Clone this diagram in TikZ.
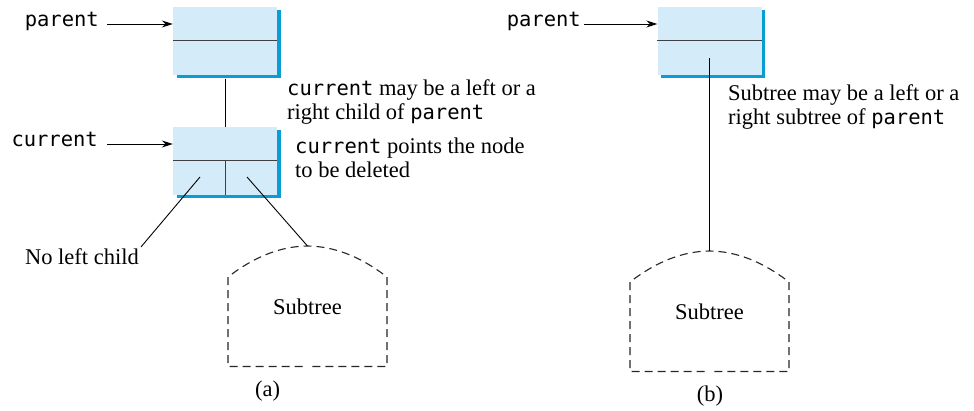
\documentclass[tikz,border=0pt]{standalone}
\usepackage{fontspec}
\setmainfont{Liberation Serif}
\setmonofont{DejaVu Sans Mono}[Scale=0.91]
\usepackage{tikz}
\usetikzlibrary{arrows.meta,positioning}

\definecolor{boxfill}{HTML}{D4ECF9}
\definecolor{boxshade}{HTML}{0A9CD5}

\begin{document}
\begin{tikzpicture}[x=1pt, y=-1pt, >={Stealth[length=11pt, width=7pt]},
    every node/.style={font=\fontsize{22.5}{24}\selectfont, inner sep=0pt},
    cell/.style={fill=boxfill, minimum width=104pt, minimum height=68pt, preaction={fill=boxshade, transform canvas={xshift=3.5pt, yshift=-3.5pt}}},
    divider/.style={draw=black!75, line width=1pt},
    ptrname/.style={font=\fontsize{22.5}{24}\selectfont\ttfamily, anchor=east, text height=1ex, text depth=0pt},
    note/.style={align=left, anchor=base west},
    ptr/.style={->, line width=0.9pt},
    link/.style={line width=0.9pt},
    frame/.style={dash pattern=on 8pt off 5pt, dash phase=4pt, line width=1.1pt, black!85}]
    \useasboundingbox (0,0) rectangle (974,411);

    % (a) parent and current
    \node[cell] (parentA) at (225,41) {};
    \node[cell] (currentA) at (225,161) {};
    % (b) parent
    \node[cell] (parentB) at (709.5,41) {};
    \foreach \c in {parentA,currentA,parentB}
        \draw[divider] (\c.west) -- (\c.east);
    \draw[divider] (currentA.center) -- (currentA.south);

    \node[ptrname] (parentAname) at (99,24) {parent};
    \node[ptrname] (currentAname) at (98,144) {current};
    \node[ptrname] (parentBname) at (581,24) {parent};
    \draw[ptr] ([xshift=8pt]parentAname.east) -- (parentAname.east -| parentA.west);
    \draw[ptr] ([xshift=9pt]currentAname.east) -- (currentAname.east -| currentA.west);
    \draw[ptr] ([xshift=3pt]parentBname.east) -- (parentBname.east -| parentB.west);

    % base anchor sits on the last line
    \node[note] (noteA1) at (287,120) {\texttt{current} may be a left or a\\right child of \texttt{parent}};
    \node[note] (noteA2) at (295,178) {\texttt{current} points the node\\to be deleted};
    \node[note] (noteB) at (728,125) {Subtree may be a left or a\\right subtree of \texttt{parent}};

    % subtrees, each outline drawn as two halves from the top
    \node (subtreeA) at (307.5,307) {Subtree};
    \node (subtreeB) at (709.5,312) {Subtree};
    \foreach \s in {subtreeA,subtreeB}{
        \draw[frame] ([shift={(0,-61)}]\s.center) .. controls ([shift={(26.5,-60.75)}]\s.center) and ([shift={(53,-50.5)}]\s.center) .. ([shift={(79.5,-30)}]\s.center)
            -- ([shift={(79.5,59.5)}]\s.center) -- ([shift={(0,59.5)}]\s.center);
        \draw[frame] ([shift={(0,-61)}]\s.center) .. controls ([shift={(-26.5,-60.75)}]\s.center) and ([shift={(-53,-50.5)}]\s.center) .. ([shift={(-79.5,-30)}]\s.center)
            -- ([shift={(-79.5,59.5)}]\s.center) -- ([shift={(0,59.5)}]\s.center);
    }
    \coordinate (topA) at ([shift={(0,-61)}]subtreeA.center);
    \coordinate (topB) at ([shift={(0,-61)}]subtreeB.center);

    \coordinate (leftA) at ([shift={(-25,16)}]currentA.center);
    \coordinate (rightA) at ([shift={(22,16)}]currentA.center);
    \coordinate (innerB) at ([shift={(0,17)}]parentB.center);
    \node[anchor=base east, inner sep=2pt] (noleft) at (141,265) {No left child};

    \draw[link] ([yshift=-3.5pt]parentA.south) -- (currentA.north);
    \draw[link] (leftA) -- (noleft.north east);
    \draw[link] (rightA) -- (topA);
    \draw[link] (innerB) -- (topB);

    \node (capA) at (267.5,391) {(a)};
    \node (capB) at (710,396) {(b)};
\end{tikzpicture}
\end{document}
